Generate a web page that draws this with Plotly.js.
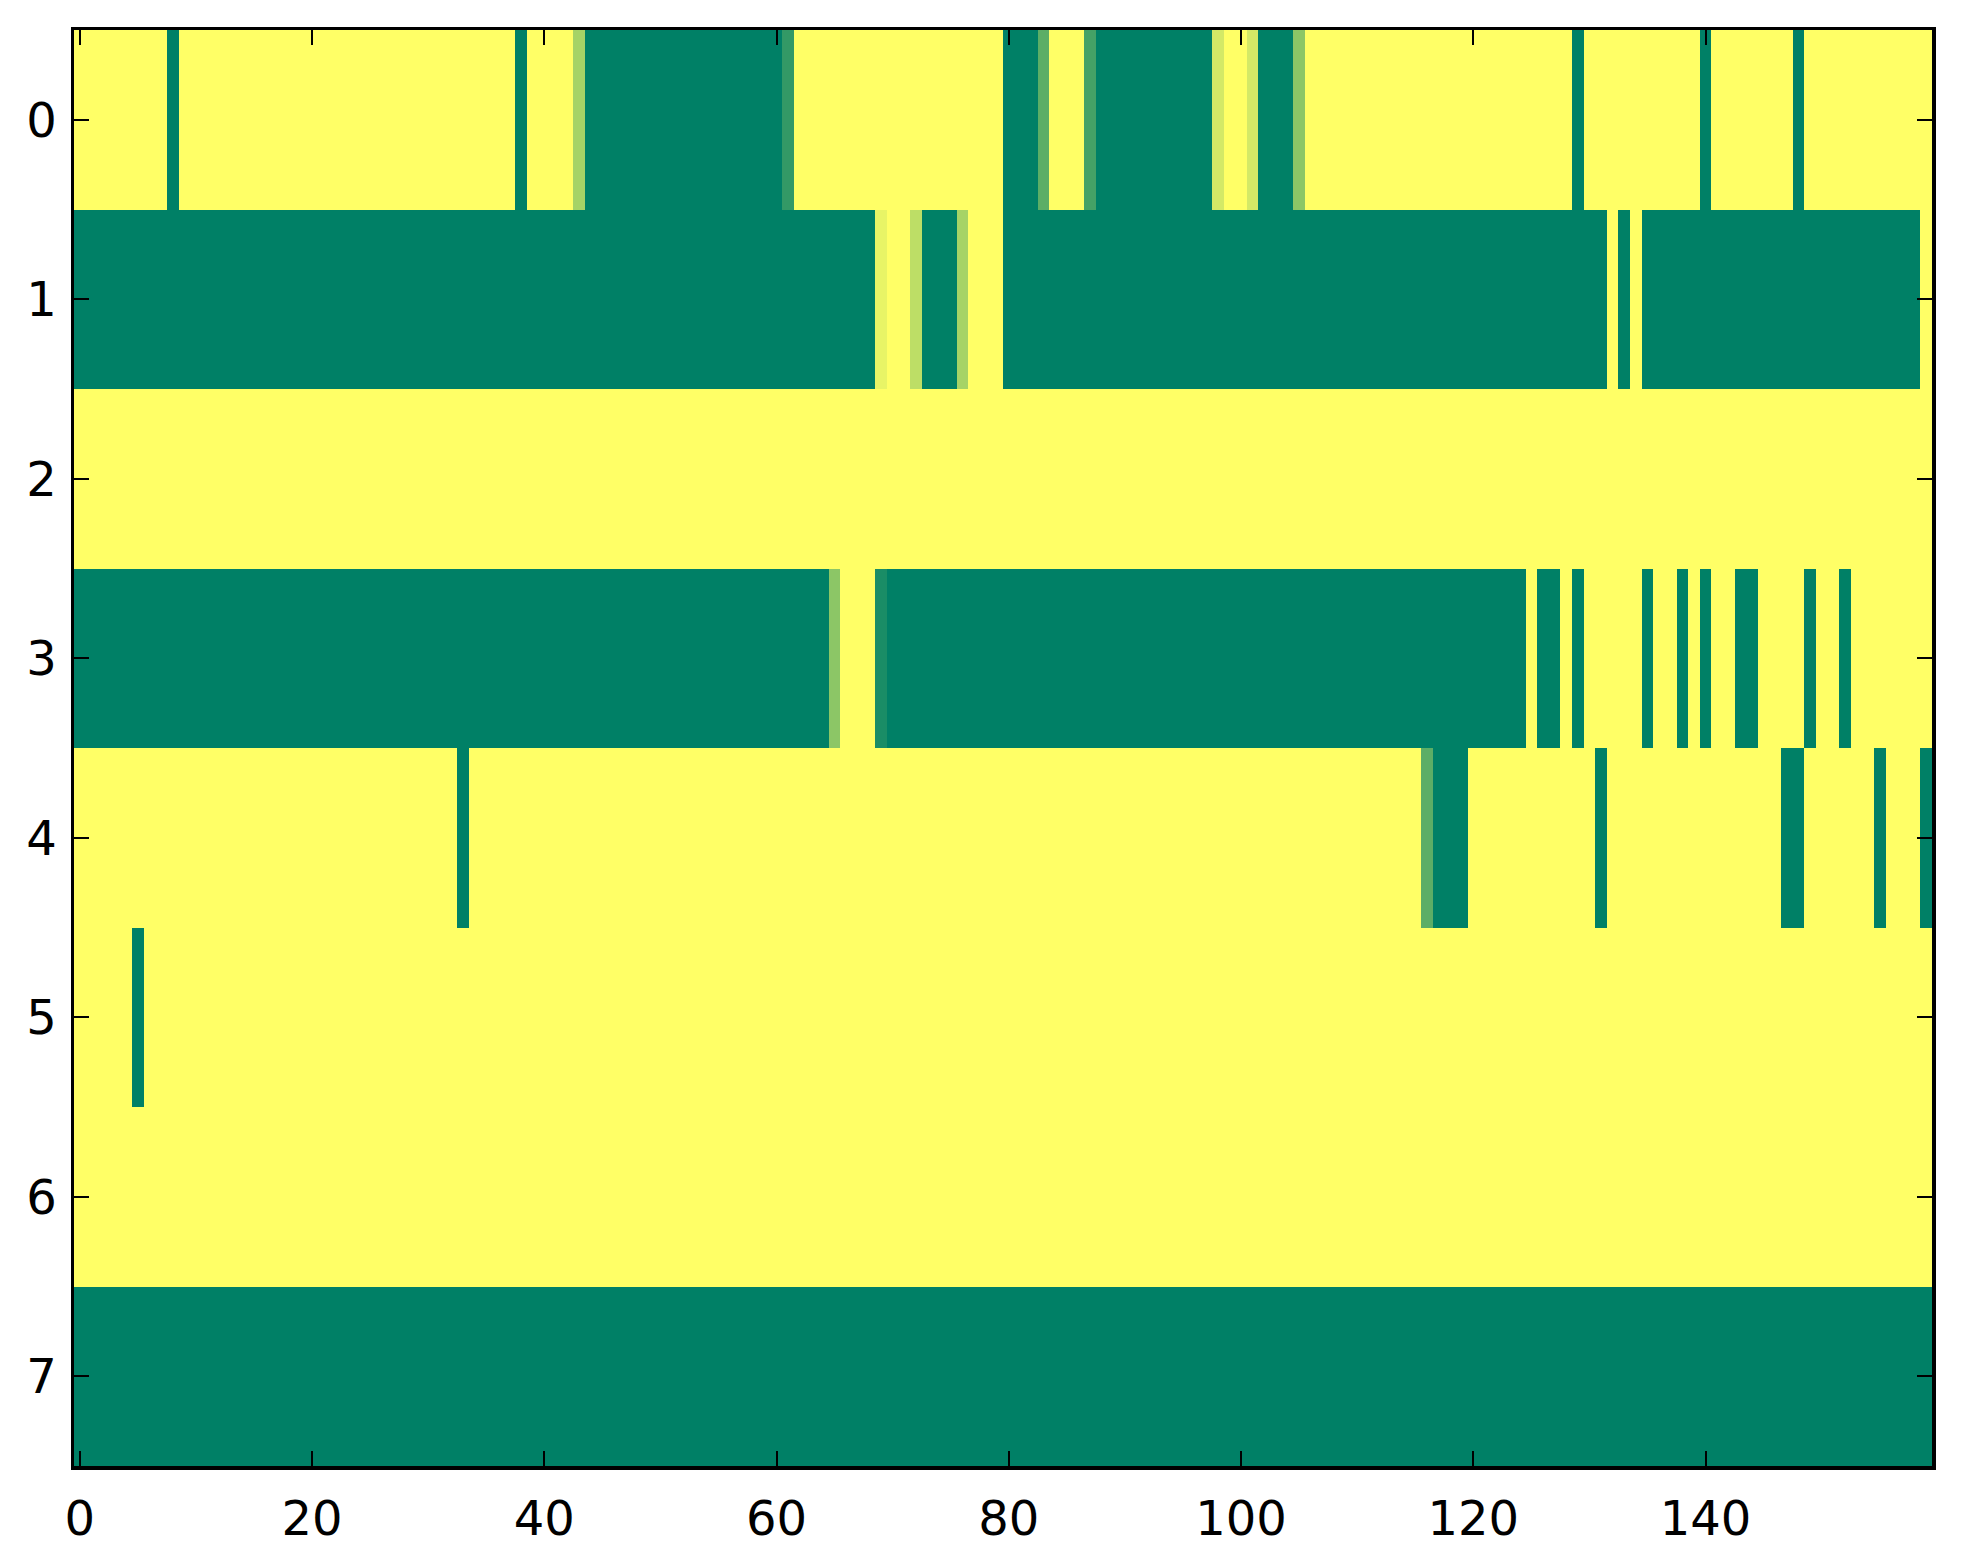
<!DOCTYPE html>
<html>
<head>
<meta charset="utf-8">
<script src="https://cdn.plot.ly/plotly-3.0.1.min.js"></script>
<style>html,body{margin:0;padding:0;background:#fff;}</style>
</head>
<body>
<div id="chart" style="width:1963px;height:1564px;"></div>
<script>
const rowLabels = [0, 1, 2, 3, 4, 5, 6, 7];
const xTicks = [0, 20, 40, 60, 80, 100, 120, 140];

const row0 = [
1,1,1,1,1,1,1,1,0,1,
1,1,1,1,1,1,1,1,1,1,
1,1,1,1,1,1,1,1,1,1,
1,1,1,1,1,1,1,1,0,1,
1,1,1,0.65,0,0,0,0,0,0,
0,0,0,0,0,0,0,0,0,0,
0,0.2,1,1,1,1,1,1,1,1,
1,1,1,1,1,1,1,1,1,1,
0,0,0,0.36,1,1,1,0.27,0,0,
0,0,0,0,0,0,0,0,0.83,1,
1,0.83,0,0,0,0.55,1,1,1,1,
1,1,1,1,1,1,1,1,1,1,
1,1,1,1,1,1,1,1,1,0,
1,1,1,1,1,1,1,1,1,1,
0,1,1,1,1,1,1,1,0,1,
1,1,1,1,1,1,1,1,1,1];

const row1 = [
0,0,0,0,0,0,0,0,0,0,
0,0,0,0,0,0,0,0,0,0,
0,0,0,0,0,0,0,0,0,0,
0,0,0,0,0,0,0,0,0,0,
0,0,0,0,0,0,0,0,0,0,
0,0,0,0,0,0,0,0,0,0,
0,0,0,0,0,0,0,0,0,0.91,
1,1,0.74,0,0,0,0.65,1,1,1,
0,0,0,0,0,0,0,0,0,0,
0,0,0,0,0,0,0,0,0,0,
0,0,0,0,0,0,0,0,0,0,
0,0,0,0,0,0,0,0,0,0,
0,0,0,0,0,0,0,0,0,0,
0,0,1,0,1,0,0,0,0,0,
0,0,0,0,0,0,0,0,0,0,
0,0,0,0,0,0,0,0,0,1];

const row2 = [
1,1,1,1,1,1,1,1,1,1, 1,1,1,1,1,1,1,1,1,1,
1,1,1,1,1,1,1,1,1,1, 1,1,1,1,1,1,1,1,1,1,
1,1,1,1,1,1,1,1,1,1, 1,1,1,1,1,1,1,1,1,1,
1,1,1,1,1,1,1,1,1,1, 1,1,1,1,1,1,1,1,1,1,
1,1,1,1,1,1,1,1,1,1, 1,1,1,1,1,1,1,1,1,1,
1,1,1,1,1,1,1,1,1,1, 1,1,1,1,1,1,1,1,1,1,
1,1,1,1,1,1,1,1,1,1, 1,1,1,1,1,1,1,1,1,1,
1,1,1,1,1,1,1,1,1,1, 1,1,1,1,1,1,1,1,1,1];

const row3 = [
0,0,0,0,0,0,0,0,0,0,
0,0,0,0,0,0,0,0,0,0,
0,0,0,0,0,0,0,0,0,0,
0,0,0,0,0,0,0,0,0,0,
0,0,0,0,0,0,0,0,0,0,
0,0,0,0,0,0,0,0,0,0,
0,0,0,0,0,0.55,1,1,1,0.1,
0,0,0,0,0,0,0,0,0,0,
0,0,0,0,0,0,0,0,0,0,
0,0,0,0,0,0,0,0,0,0,
0,0,0,0,0,0,0,0,0,0,
0,0,0,0,0,0,0,0,0,0,
0,0,0,0,0,1,0,0,1,0,
1,1,1,1,1,0,1,1,0,1,
0,1,1,0,0,1,1,1,1,0,
1,1,0,1,1,1,1,1,1,1];

const row4 = [
1,1,1,1,1,1,1,1,1,1,
1,1,1,1,1,1,1,1,1,1,
1,1,1,1,1,1,1,1,1,1,
1,1,1,0,1,1,1,1,1,1,
1,1,1,1,1,1,1,1,1,1,
1,1,1,1,1,1,1,1,1,1,
1,1,1,1,1,1,1,1,1,1,
1,1,1,1,1,1,1,1,1,1,
1,1,1,1,1,1,1,1,1,1,
1,1,1,1,1,1,1,1,1,1,
1,1,1,1,1,1,1,1,1,1,
1,1,1,1,1,1,0.36,0,0,0,
1,1,1,1,1,1,1,1,1,1,
1,0,1,1,1,1,1,1,1,1,
1,1,1,1,1,1,1,0,0,1,
1,1,1,1,1,0,1,1,1,0];

const row5 = [
1,1,1,1,1,0,1,1,1,1, 1,1,1,1,1,1,1,1,1,1,
1,1,1,1,1,1,1,1,1,1, 1,1,1,1,1,1,1,1,1,1,
1,1,1,1,1,1,1,1,1,1, 1,1,1,1,1,1,1,1,1,1,
1,1,1,1,1,1,1,1,1,1, 1,1,1,1,1,1,1,1,1,1,
1,1,1,1,1,1,1,1,1,1, 1,1,1,1,1,1,1,1,1,1,
1,1,1,1,1,1,1,1,1,1, 1,1,1,1,1,1,1,1,1,1,
1,1,1,1,1,1,1,1,1,1, 1,1,1,1,1,1,1,1,1,1,
1,1,1,1,1,1,1,1,1,1, 1,1,1,1,1,1,1,1,1,1];

const row6 = [
1,1,1,1,1,1,1,1,1,1, 1,1,1,1,1,1,1,1,1,1,
1,1,1,1,1,1,1,1,1,1, 1,1,1,1,1,1,1,1,1,1,
1,1,1,1,1,1,1,1,1,1, 1,1,1,1,1,1,1,1,1,1,
1,1,1,1,1,1,1,1,1,1, 1,1,1,1,1,1,1,1,1,1,
1,1,1,1,1,1,1,1,1,1, 1,1,1,1,1,1,1,1,1,1,
1,1,1,1,1,1,1,1,1,1, 1,1,1,1,1,1,1,1,1,1,
1,1,1,1,1,1,1,1,1,1, 1,1,1,1,1,1,1,1,1,1,
1,1,1,1,1,1,1,1,1,1, 1,1,1,1,1,1,1,1,1,1];

const row7 = [
0,0,0,0,0,0,0,0,0,0, 0,0,0,0,0,0,0,0,0,0,
0,0,0,0,0,0,0,0,0,0, 0,0,0,0,0,0,0,0,0,0,
0,0,0,0,0,0,0,0,0,0, 0,0,0,0,0,0,0,0,0,0,
0,0,0,0,0,0,0,0,0,0, 0,0,0,0,0,0,0,0,0,0,
0,0,0,0,0,0,0,0,0,0, 0,0,0,0,0,0,0,0,0,0,
0,0,0,0,0,0,0,0,0,0, 0,0,0,0,0,0,0,0,0,0,
0,0,0,0,0,0,0,0,0,0, 0,0,0,0,0,0,0,0,0,0,
0,0,0,0,0,0,0,0,0,0, 0,0,0,0,0,0,0,0,0,0];

const z = [row0, row1, row2, row3, row4, row5, row6, row7];
const xCols = row0.map((_, i) => i);

const trace = {
  type: 'heatmap',
  z: z,
  x: xCols,
  y: rowLabels,
  zmin: 0,
  zmax: 1,
  colorscale: [[0, 'rgb(0,128,102)'], [1, 'rgb(255,255,102)']],
  showscale: false,
  hoverinfo: 'skip'
};

const fontSpec = {family: 'DejaVu Sans, sans-serif', size: 48, color: '#000'};

const layout = {
  width: 1963,
  height: 1564,
  margin: {l: 74, r: 31, t: 30, b: 98, pad: 0},
  paper_bgcolor: '#fff',
  plot_bgcolor: '#fff',
  showlegend: false,
  xaxis: {
    range: [-0.5, 159.5],
    tickvals: xTicks,
    ticktext: xTicks.map(String),
    ticks: 'inside',
    ticklen: 15,
    tickwidth: 2,
    tickcolor: '#000',
    showline: true,
    linecolor: '#000',
    linewidth: 3.5,
    mirror: 'ticks',
    showgrid: false,
    zeroline: false,
    tickfont: fontSpec,
    ticklabelstandoff: 8
  },
  yaxis: {
    range: [7.5, -0.5],
    tickvals: rowLabels,
    ticktext: rowLabels.map(String),
    ticks: 'inside',
    ticklen: 15,
    tickwidth: 2,
    tickcolor: '#000',
    showline: true,
    linecolor: '#000',
    linewidth: 3.5,
    mirror: 'ticks',
    showgrid: false,
    zeroline: false,
    tickfont: fontSpec,
    ticklabelstandoff: 4
  }
};

Plotly.newPlot('chart', [trace], layout, {staticPlot: true, displayModeBar: false});
</script>
</body>
</html>
